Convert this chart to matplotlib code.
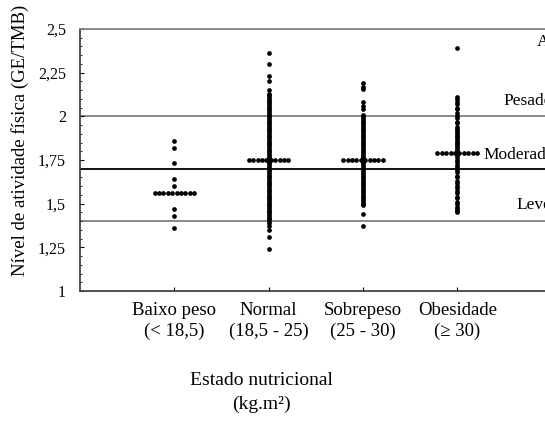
import matplotlib
matplotlib.use('Agg')
import matplotlib.pyplot as plt
import numpy as np

plt.rcParams['font.family'] = ['Liberation Serif', 'DejaVu Serif']

categories = ["Baixo peso\n(< 18,5)", "Normal\n(18,5 - 25)", "Sobrepeso\n(25 - 30)", "Obesidade\n(\u2265 30)"]

baixo_peso = [1.86, 1.82, 1.73, 1.64, 1.60, 1.47, 1.43, 1.36]

normal = [2.36, 2.30, 2.23, 2.20, 2.15,
          2.13, 2.12, 2.11, 2.10, 2.09, 2.08, 2.07, 2.06, 2.05, 2.04,
          2.03, 2.02, 2.01, 2.00, 1.99, 1.98, 1.97, 1.96, 1.95, 1.94,
          1.93, 1.92, 1.91, 1.90, 1.89, 1.88, 1.87, 1.86, 1.85, 1.84,
          1.83, 1.82, 1.81, 1.80, 1.79, 1.78, 1.77, 1.76, 1.75, 1.74,
          1.73, 1.72, 1.71, 1.70, 1.69, 1.68, 1.67, 1.66, 1.65, 1.64,
          1.63, 1.62, 1.61, 1.60, 1.59, 1.58, 1.57, 1.56, 1.55, 1.54,
          1.53, 1.52, 1.51, 1.50, 1.49, 1.48, 1.47, 1.46, 1.45, 1.44,
          1.43, 1.42, 1.41, 1.40, 1.39,
          1.37, 1.35, 1.31, 1.24]

sobrepeso = [2.19, 2.17, 2.155, 2.08, 2.06, 2.04,
             2.01, 2.00, 1.99, 1.98, 1.97, 1.96, 1.95, 1.94, 1.93, 1.92,
             1.91, 1.90, 1.89, 1.88, 1.87, 1.86, 1.85, 1.84, 1.83, 1.82,
             1.81, 1.80, 1.79, 1.78, 1.77, 1.76, 1.75, 1.74, 1.73, 1.72,
             1.71, 1.70, 1.69, 1.68, 1.67, 1.66, 1.65, 1.64, 1.63, 1.62,
             1.61, 1.60, 1.59, 1.58, 1.57, 1.56, 1.55, 1.54, 1.53, 1.52,
             1.51, 1.50, 1.49,
             1.44, 1.37]

obesidade = [2.39,
             2.11, 2.10, 2.08, 2.07, 2.05, 2.04, 2.02, 2.00, 1.99, 1.97,
             1.96, 1.94, 1.93, 1.92, 1.91, 1.90, 1.89, 1.88, 1.87, 1.86,
             1.85, 1.84, 1.83, 1.82, 1.81, 1.80, 1.78, 1.77, 1.75, 1.74,
             1.72, 1.71, 1.69, 1.68, 1.66, 1.65, 1.63, 1.62, 1.60, 1.59,
             1.57, 1.56, 1.54, 1.53, 1.51, 1.50, 1.48, 1.47, 1.46, 1.45]

medians = [1.56, 1.75, 1.75, 1.79]

ref_lines = [2.0, 1.7, 1.4]
ref_labels = ["Alto", "Pesado", "Moderado", "Leve"]
ref_label_y = [2.425, 2.087, 1.78, 1.49]

y_ticks = [1, 1.25, 1.5, 1.75, 2, 2.25, 2.5]
y_ticklabels = ["1", "1,25", "1,5", "1,75", "2", "2,25", "2,5"]


def main():
    fig = plt.figure(figsize=(5.45, 4.23), dpi=100)
    ax = fig.add_axes([0.1468, 0.312, 0.8532, 0.6195])

    groups = [baixo_peso, normal, sobrepeso, obesidade]
    for i, vals in enumerate(groups):
        x = i + 1
        ax.plot([x] * len(vals), vals, 'o', color='black', markersize=3.4,
                markeredgewidth=0, zorder=3)
        # median shown as a row of dots
        row = np.linspace(x - 0.21, x + 0.21, 10)
        ax.plot(row, [medians[i]] * len(row), 'o', color='black',
                markersize=3.4, markeredgewidth=0, zorder=3)

    for y, c in zip(ref_lines, ['#7f7f7f', 'black', '#7f7f7f']):
        ax.axhline(y, color=c, linewidth=1.3, zorder=1)

    label_x = [4.84, 4.49, 4.28, 4.63]
    for lx, ly, txt in zip(label_x, ref_label_y, ref_labels):
        ax.text(lx, ly, txt, ha='left', va='center', fontsize=12.5)

    ax.set_xlim(0, 4.93)
    ax.set_ylim(1, 2.5)

    ax.set_yticks(y_ticks)
    ax.set_yticklabels(y_ticklabels, fontsize=11.5)
    ax.set_yticks(np.arange(1, 2.501, 0.05), minor=True)
    ax.set_xticks(range(1, len(categories) + 1))
    ax.set_xticklabels(categories, fontsize=13.5, linespacing=1.3)

    ax.tick_params(axis='y', which='major', direction='in', length=3, pad=10)
    ax.tick_params(axis='y', which='minor', direction='in', length=1.5)
    ax.tick_params(axis='x', direction='in', length=3, pad=8)

    ax.spines['right'].set_visible(False)
    ax.spines['top'].set_color('#7f7f7f')
    ax.spines['top'].set_linewidth(1.3)
    ax.spines['left'].set_color('#444444')
    ax.spines['bottom'].set_color('#444444')
    ax.spines['left'].set_linewidth(1.3)
    ax.spines['bottom'].set_linewidth(1.3)

    ax.set_ylabel("N\u00edvel de atividade f\u00edsica (GE/TMB)", fontsize=13.5)
    ax.yaxis.set_label_coords(-0.11, 0.576)
    ax.set_xlabel("Estado nutricional\n(kg.m\u00b2)", fontsize=14, linespacing=1.5)
    ax.xaxis.set_label_coords(0.39, -0.31)

    fig.savefig("out.png", dpi=100)


if __name__ == "__main__":
    main()
